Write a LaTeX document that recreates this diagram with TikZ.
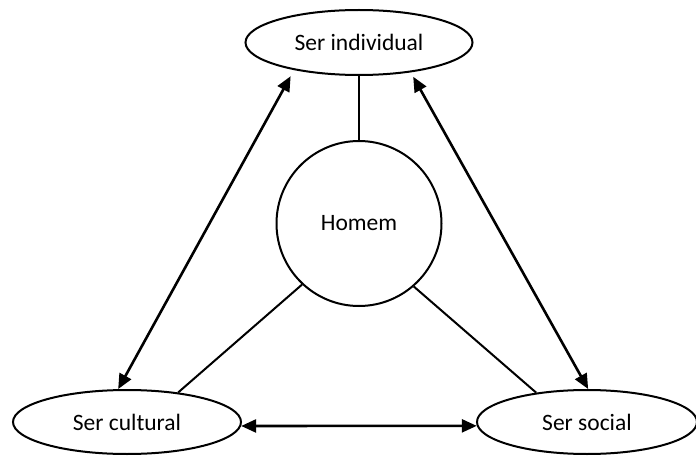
\documentclass[tikz,border=0pt]{standalone}
\usepackage{fontspec}
\setmainfont{Carlito}
\usetikzlibrary{shapes.geometric,arrows.meta}
\begin{document}
\begin{tikzpicture}[x=1pt,y=-1pt,
  ell/.style={draw, ellipse, line width=2pt, inner sep=0pt, font=\fontsize{23.5}{28}\selectfont},
  circ/.style={draw, circle, line width=2pt, inner sep=0pt, font=\fontsize{23.5}{28}\selectfont},
  ln/.style={line width=2pt},
  tip/.tip={Triangle[length=15pt,width=13pt]},
  arr/.style={line width=2.6pt, tip-tip}]
\useasboundingbox (0,0) rectangle (696,457);
\node[ell, minimum width=227pt, minimum height=65pt] (T) at (359,42.5) {Ser individual};
\node[circ, minimum size=165pt] (H) at (359,223.5) {Homem};
\node[ell, minimum width=228pt, minimum height=64pt] (C) at (127,422) {Ser cultural};
\node[ell, minimum width=220pt, minimum height=64pt] (S) at (587,422) {Ser social};
\draw[ln] (T.south) -- (H.north);
\draw[ln] (H.227) -- (C.30);
\draw[ln] (H.311) -- (S.150.6);
\draw[arr, shorten >=7pt] (C.105.7) -- (T.203.8);
\draw[arr, shorten >=5pt] (S.88) -- (T.330.6);
\draw[arr] (C.-2) -- (S.182);
\end{tikzpicture}
\end{document}
